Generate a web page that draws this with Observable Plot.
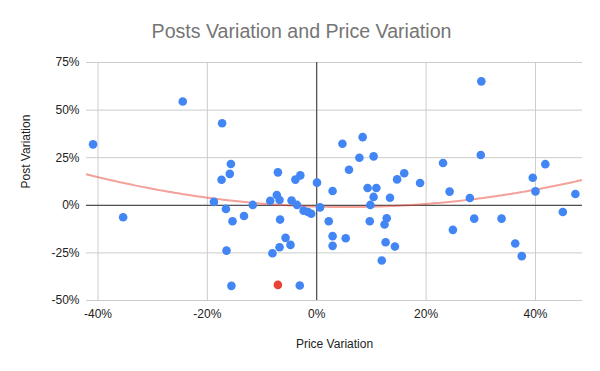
<!DOCTYPE html>
<html><head><meta charset="utf-8">
<script src="https://cdn.jsdelivr.net/npm/d3@7"></script>
<script src="https://cdn.jsdelivr.net/npm/@observablehq/plot@0.6"></script>
<style>body{margin:0;background:#fff;}</style>
</head><body><div id="chart"></div>
<script>
const title = "Posts Variation and Price Variation";
const xLabel = "Price Variation";
const yLabel = "Post Variation";
const xTicks = [-40, -20, 0, 20, 40];
const yTicks = [-50, -25, 0, 25, 50, 75];

// Price variation (%) for each point
const priceVariation = [
  -40.9, -24.5, -17.3, -15.7, -7.1, -15.9, -3.0, -17.4, -3.9, 0.05,
  -18.8, -16.6, -35.4, -15.4, -13.3, -11.7, -8.5, -7.3, -6.8, -4.6,
  -3.6, -2.4, -1.6, -1.0, 0.6, -6.7, -5.7, -4.8, -6.8, -8.1,
  -16.5, -15.6, -3.1, 30.1, 4.7, 8.4, 7.8, 10.4, 5.9, 23.1,
  30.0, 41.8, 39.5, 16.0, 14.7, 18.9, 2.9, 9.3, 10.9, 10.4,
  13.4, 9.8, 2.2, 9.7, 12.8, 12.4, 2.9, 2.9, 5.3, 12.6,
  14.3, 11.9, 24.3, 28.0, 24.9, 28.8, 33.8, 36.3, 37.5, 40.0,
  45.0, 47.3
];
// Post variation (%) for each point
const postVariation = [
  32.0, 54.5, 43.1, 21.7, 17.3, 16.5, 15.7, 13.4, 13.5, 11.9,
  1.8, -1.9, -6.3, -8.4, -5.6, 0.2, 2.4, 5.4, 2.8, 2.5,
  0.2, -2.8, -3.5, -4.4, -1.1, -7.5, -17.1, -20.8, -22.0, -25.2,
  -23.8, -42.3, -42.1, 65.1, 32.3, 35.8, 25.0, 25.7, 18.7, 22.2,
  26.4, 21.6, 14.5, 16.8, 13.6, 11.7, 7.5, 9.1, 9.1, 4.4,
  4.0, 0.2, -8.4, -8.4, -6.8, -10.1, -16.2, -21.3, -17.3, -19.4,
  -21.6, -29.0, 7.2, 3.8, -12.9, -7.0, -7.0, -20.1, -26.7, 7.3,
  -3.5, 5.9
];
// Highlighted point
const highlightPrice = [-7.1];
const highlightPost = [-41.8];

const xDomain = [-42.1, 48.6];
const yDomain = [-50, 75];

const points = priceVariation.map((p, i) => ({x: p, y: postVariation[i]}));
const highlight = highlightPrice.map((p, i) => ({x: p, y: highlightPost[i]}));

// Polynomial (order 2) least-squares trendline over all points
const all = points.concat(highlight);
function quadFit(data) {
  let S = Array.from({length: 5}, () => 0), T = [0, 0, 0];
  for (const {x, y} of data) {
    for (let k = 0; k < 5; k++) S[k] += x ** k;
    for (let k = 0; k < 3; k++) T[k] += y * x ** k;
  }
  const A = [[S[0], S[1], S[2], T[0]], [S[1], S[2], S[3], T[1]], [S[2], S[3], S[4], T[2]]];
  for (let i = 0; i < 3; i++) {
    for (let j = i + 1; j < 3; j++) {
      const f = A[j][i] / A[i][i];
      for (let k = i; k < 4; k++) A[j][k] -= f * A[i][k];
    }
  }
  const c = [0, 0, 0];
  for (let i = 2; i >= 0; i--) {
    let s = A[i][3];
    for (let k = i + 1; k < 3; k++) s -= A[i][k] * c[k];
    c[i] = s / A[i][i];
  }
  return c;
}
const coef = quadFit(all);
const trend = d3.range(0, 201).map(i => {
  const x = xDomain[0] + (xDomain[1] - xDomain[0]) * i / 200;
  return {x, y: coef[0] + coef[1] * x + coef[2] * x * x};
});

const pct = d => d + "%";

const chart = Plot.plot({
  width: 600,
  height: 371,
  marginLeft: 86,
  marginRight: 18,
  marginTop: 62,
  marginBottom: 71,
  x: {domain: xDomain},
  y: {domain: yDomain},
  style: {fontFamily: "'Liberation Sans', Arial, sans-serif", fontSize: "12px", color: "#222", background: "#fff"},
  marks: [
    Plot.gridX(xTicks, {stroke: "#cccccc", strokeOpacity: 1}),
    Plot.gridY(yTicks, {stroke: "#cccccc", strokeOpacity: 1}),
    Plot.ruleX([0], {stroke: "#333"}),
    Plot.ruleY([0], {stroke: "#333"}),
    Plot.axisX(xTicks, {tickSize: 0, tickPadding: 9, tickFormat: pct, label: null, fill: "#222"}),
    Plot.axisY(yTicks, {tickSize: 0, tickPadding: 7, tickFormat: pct, label: null, fill: "#222"}),
    Plot.line(trend, {x: "x", y: "y", stroke: "#ea4335", strokeOpacity: 0.5, strokeWidth: 2, clip: true}),
    Plot.dot(points, {x: "x", y: "y", r: 4.3, fill: "#4285f4", stroke: "none"}),
    Plot.dot(highlight, {x: "x", y: "y", r: 4.3, fill: "#ea4335", stroke: "none"}),
    Plot.text([title], {frameAnchor: "top", dx: -33, dy: -31, fontSize: 19.6, fill: "#757575", lineAnchor: "middle"}),
    Plot.text([xLabel], {frameAnchor: "bottom", dy: 44, fontSize: 12, fill: "#222", lineAnchor: "middle"}),
    Plot.text([yLabel], {frameAnchor: "left", dx: -60, dy: 7, rotate: -90, fontSize: 12, fill: "#222", lineAnchor: "middle"})
  ]
});
document.getElementById("chart").appendChild(chart);
</script>
</body></html>
